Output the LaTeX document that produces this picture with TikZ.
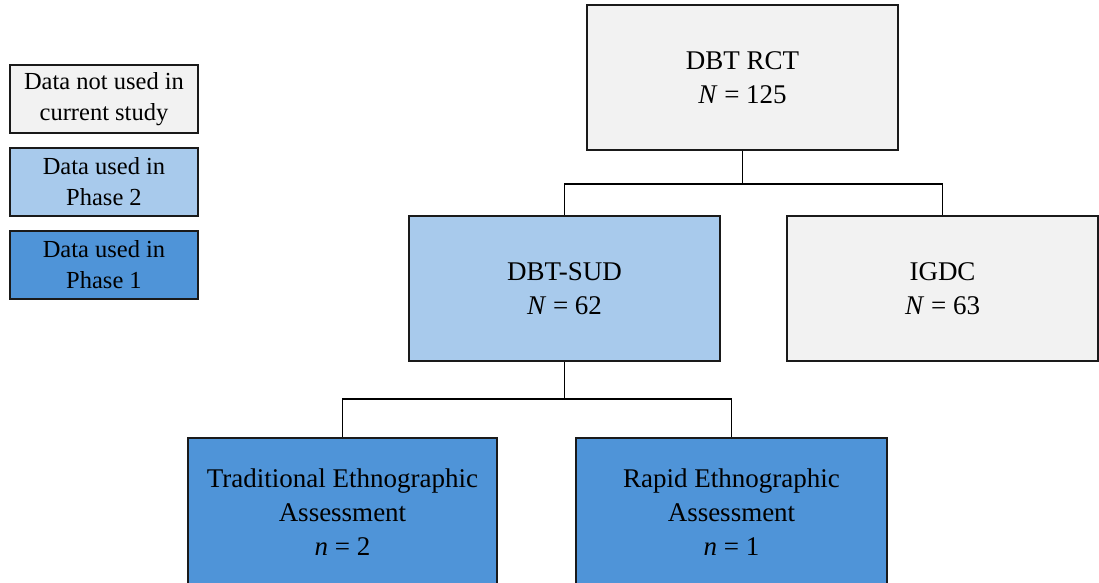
\documentclass[tikz,border=0pt]{standalone}
\usepackage{fontspec}
\setmainfont{Liberation Serif}
\definecolor{greyfill}{HTML}{F2F2F2}
\definecolor{lightblue}{HTML}{A8CAEC}
\definecolor{darkblue}{HTML}{4F94D8}
\definecolor{edgecol}{HTML}{1A1A1A}
\begin{document}
\begin{tikzpicture}[x=1pt,y=-1pt,
  box/.style={draw=edgecol, line width=1.2pt, inner sep=0pt, align=center,
    minimum width=311pt, minimum height=145pt, font=\fontsize{27}{34}\selectfont},
  legbox/.style={draw=edgecol, line width=1.2pt, inner sep=0pt, align=center,
    minimum width=188pt, minimum height=68pt, font=\fontsize{24.5}{31}\selectfont},
  link/.style={draw=black, line width=1.6pt}]
\useasboundingbox (0,0) rectangle (1099,582);
% legend
\node[legbox, fill=greyfill] (l1) at (104,99) {Data not used in\\current study};
\node[legbox, fill=lightblue] (l2) at (104,182) {Data used in\\Phase 2};
\node[legbox, fill=darkblue] (l3) at (104,265) {Data used in\\Phase 1};
% tree
\node[box, fill=greyfill] (top) at (742.5,77.5) {DBT RCT\\\textit{N} = 125};
\node[box, fill=lightblue] (sud) at (564.5,288.5) {DBT-SUD\\\textit{N} = 62};
\node[box, fill=greyfill] (igdc) at (942.5,288.5) {IGDC\\\textit{N} = 63};
\node[box, fill=darkblue, minimum width=309pt, minimum height=148pt] (trad) at (342.5,512) {Traditional Ethnographic\\Assessment\\\textit{n} = 2};
\node[box, fill=darkblue, minimum height=148pt] (rapid) at (731.5,512) {Rapid Ethnographic\\Assessment\\\textit{n} = 1};
\coordinate (j1) at (742.5,184);
\coordinate (j2) at (564.5,399);
\draw[link] (top.south) -- (j1);
\draw[link] (j1) -| (sud.north);
\draw[link] (j1) -| (igdc.north);
\draw[link] (sud.south) -- (j2);
\draw[link] (j2) -| (trad.north);
\draw[link] (j2) -| (rapid.north);
\end{tikzpicture}
\end{document}
